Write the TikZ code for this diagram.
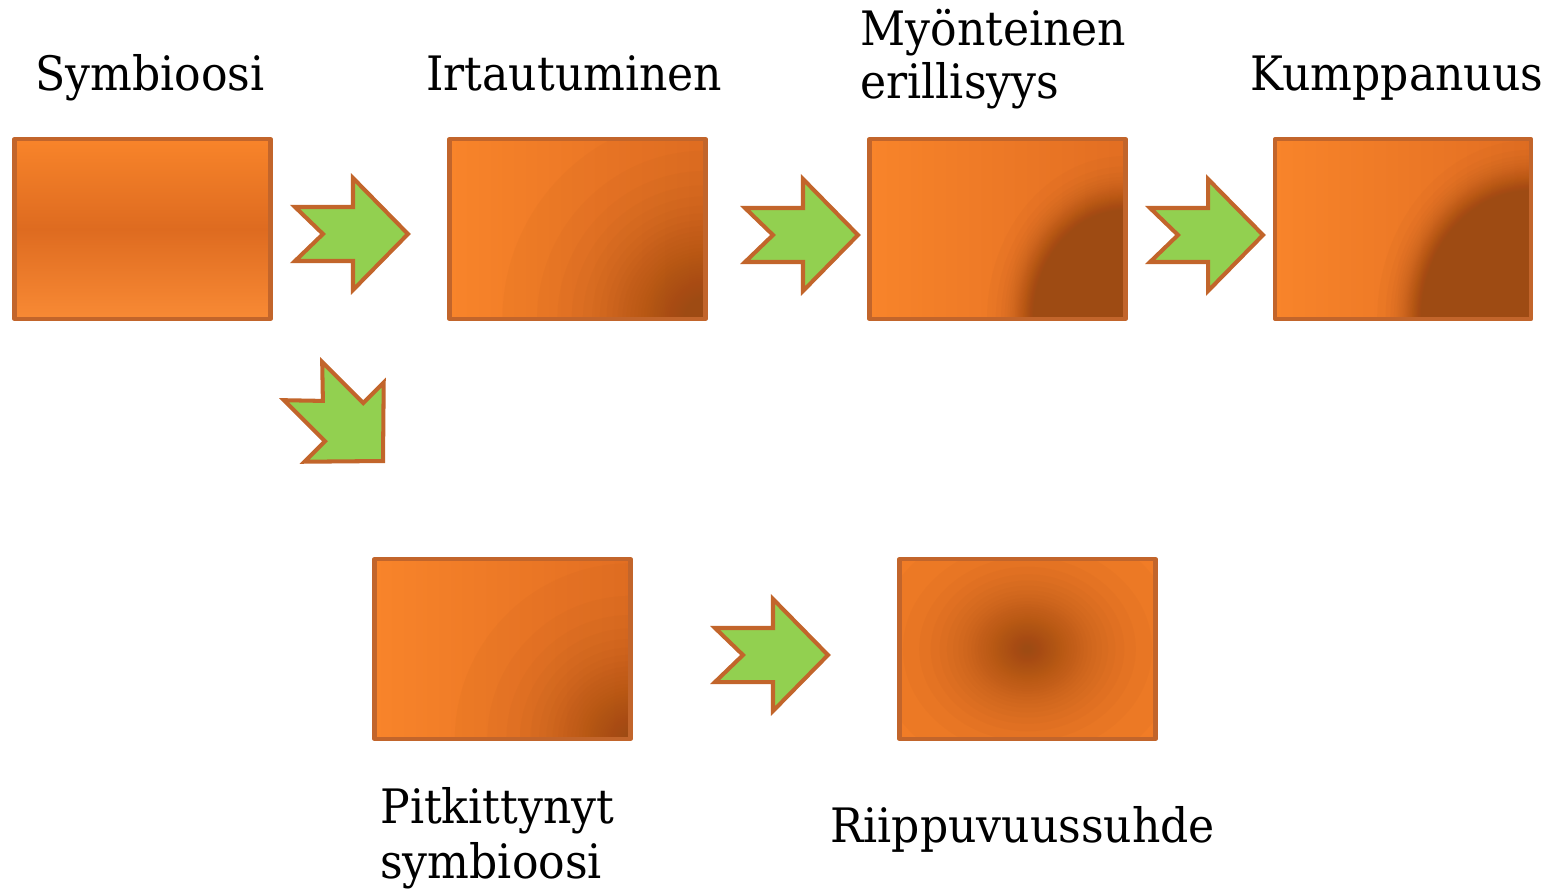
\documentclass[tikz,border=0pt]{standalone}
\usepackage{fontspec}
\setmainfont{DejaVu Serif}[FakeStretch=0.93]
\definecolor{boxline}{RGB}{194,101,43}
\definecolor{orL}{RGB}{248,132,42}
\definecolor{orR}{RGB}{226,110,34}
\definecolor{orM}{RGB}{222,107,32}
\definecolor{orB}{RGB}{241,124,38}
\definecolor{darkbr}{RGB}{158,75,19}
\definecolor{arrowgreen}{RGB}{146,208,80}

% #1 centre, #2 layers N, #3 decay length (px), #4 solid core radius (px), #5 x factor, #6 y factor
\newcommand\dglow[6]{%
  \pgfmathtruncatemacro\dgN{#2-1}%
  \foreach \k in {1,...,\dgN}{%
    \pgfmathsetmacro\dgr{(#4+#3*ln(#2/\k))*0.02}%
    \fill[darkbr, opacity=0.05] (#1) ellipse [x radius={#5*\dgr*1cm}, y radius={#6*\dgr*1cm}];
  }%
  \ifdim #4pt>0pt \fill[darkbr] (#1) ellipse [x radius={#5*#4*0.02cm}, y radius={#6*#4*0.02cm}];\fi
}

\tikzset{
  box/.style={draw=boxline, line width=2.4pt, line join=round, inner sep=0pt,
    minimum width=5.12cm, minimum height=3.6cm},
  hgrad/.style={left color=orL, right color=orR},
  lbl/.style={font=\fontsize{27}{32}\selectfont, inner sep=0pt, anchor=base west},
  arrowshape/.style={fill=arrowgreen, draw=boxline, line width=2.3pt, line join=miter},
  pics/rarrow/.style={code={
    \draw[arrowshape] (-113,-27) -- (-55,-27) -- (-55,-56) -- (0,0) -- (-55,56)
      -- (-55,27) -- (-113,27) -- (-85,0) -- cycle;}}
}

\begin{document}
\begin{tikzpicture}[x=0.02cm, y=-0.02cm]
\useasboundingbox (0,0) rectangle (1557,894);

% boxes
\node[box, top color=orL, bottom color=orL!95!white, middle color=orM] (bSym) at (142.5,229) {};
\node[box, hgrad, path picture={\dglow{path picture bounding box.south east}{58}{50}{0}{1}{1}}] (bIrt) at (577.5,229) {};
\node[box, hgrad, path picture={\dglow{path picture bounding box.south east}{58}{15}{102}{0.85}{1}}] (bMyo) at (997.5,229) {};
\node[box, hgrad, path picture={\dglow{path picture bounding box.south east}{58}{14}{122}{0.86}{1}}] (bKum) at (1403,229) {};
\node[box, hgrad, path picture={\dglow{path picture bounding box.south east}{42}{47}{0}{1}{1}}] (bPit) at (502.5,649) {};
\node[box, fill=orB, path picture={\dglow{path picture bounding box.center}{45}{40}{0}{1}{0.85}}] (bRii) at (1027.5,649) {};

% labels
\node[lbl] (tSym) at (35,90) {Symbioosi};
\node[lbl] (tIrt) at (426,90) {Irtautuminen};
\node[lbl] (tMyo1) at (860,45) {Myönteinen};
\node[lbl] (tMyo2) at (860,98) {erillisyys};
\node[lbl] (tKum) at (1250,90) {Kumppanuus};
\node[lbl] (tPit1) at (380,823) {Pitkittynyt};
\node[lbl] (tPit2) at (380,878) {symbioosi};
\node[lbl] (tRii) at (830,842) {Riippuvuussuhde};

% arrows
\pic at (408,234) {rarrow};
\pic at (858,235) {rarrow};
\pic at (1263,235) {rarrow};
\pic at (828,655) {rarrow};
\pic[rotate=-45] at (383,461) {rarrow};
\end{tikzpicture}
\end{document}
